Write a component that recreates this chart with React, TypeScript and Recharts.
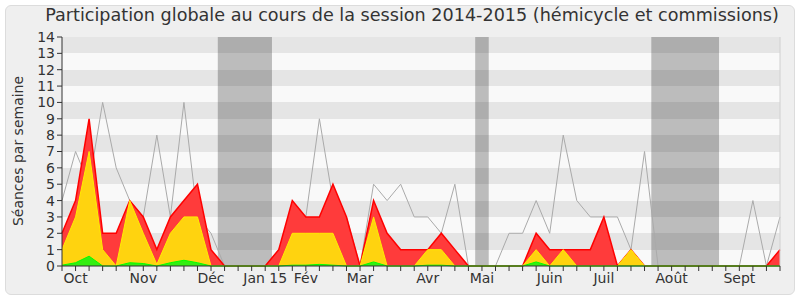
import React from 'react';
import { ComposedChart, Area, XAxis, YAxis, CartesianGrid, ReferenceArea, ReferenceLine, Label } from 'recharts';

const weekIndex: number[] = Array.from({ length: 54 }, (_, i) => i);

// red: total weekly sessions
const participations: number[] = [2, 4, 9, 2, 2, 4, 3, 1, 3, 4, 5, 1, 0, 0, 0, 0, 1, 4, 3, 3, 5, 3, 0, 4, 2, 1, 1, 1, 2, 1, 0, 0, 0, 0, 0, 2, 1, 1, 1, 1, 3, 0, 1, 0, 0, 0, 0, 0, 0, 0, 0, 0, 0, 1];
// yellow
const presences: number[] = [1, 3, 7, 1, 0, 4, 2, 0.1, 2, 3, 3, 0, 0, 0, 0, 0, 0, 2, 2, 2, 2, 0, 0, 3, 0, 0, 0, 1, 1, 0, 0, 0, 0, 0, 0, 1, 0, 1, 0, 0, 0, 0, 1, 0, 0, 0, 0, 0, 0, 0, 0, 0, 0, 0];
// green
const interventions: number[] = [0.05, 0.2, 0.6, 0, 0, 0.2, 0.15, 0, 0.2, 0.35, 0.2, 0, 0, 0, 0, 0, 0, 0.05, 0.05, 0.1, 0.05, 0, 0, 0.25, 0, 0, 0, 0.05, 0.05, 0, 0, 0, 0, 0, 0, 0.25, 0, 0, 0, 0, 0, 0, 0, 0, 0, 0, 0, 0, 0, 0, 0, 0, 0, 0];
// grey line
const mediane: number[] = [4, 7, 5, 10, 6, 4, 3, 8, 3, 10, 3, 2, 0, 0, 0, 0, 1, 3, 3, 9, 4, 3, 0, 5, 4, 5, 3, 3, 2, 5, 0, 0, 0, 2, 2, 4, 2, 8, 4, 3, 3, 3, 1, 7, 0, 0, 0, 0, 0, 0, 0, 4, 0, 3];

const monthTicks: [number, string][] = [
  [1, 'Oct'], [6, 'Nov'], [11, 'Déc'], [15, 'Jan 15'], [18, 'Fév'], [22, 'Mar'],
  [27, 'Avr'], [31, 'Mai'], [36, 'Juin'], [40, 'Juil'], [45, 'Août'], [50, 'Sept'],
];

const vacances: [number, number][] = [[11.5, 15.5], [30.5, 31.5], [43.5, 48.5]];

const yTicks: number[] = [0, 1, 2, 3, 4, 5, 6, 7, 8, 9, 10, 11, 12, 13, 14];

const data = weekIndex.map((i) => ({
  i,
  participations: participations[i],
  presences: presences[i],
  interventions: interventions[i],
  mediane: mediane[i],
}));

const labelFor = (v: number) => {
  const f = monthTicks.find((t) => t[0] === v);
  return f ? f[1] : '';
};

const FONT = '"DejaVu Sans", Verdana, sans-serif';

export default function App() {
  return (
    <div style={{ position: 'absolute', left: 0, top: 0, width: 800, height: 300, background: '#fff', fontFamily: FONT }}>
      <div style={{ position: 'absolute', left: 5, top: 5, width: 788, height: 288, background: '#efefef', border: '1px solid #dcdcdc', borderRadius: 6 }} />
      <div style={{ position: 'absolute', left: 0, top: 5, width: 824, textAlign: 'center', fontSize: 17.6, color: '#333', whiteSpace: 'nowrap' }}>
        Participation globale au cours de la session 2014-2015 (hémicycle et commissions)
      </div>
      <div style={{ position: 'absolute', left: 0, top: 0 }}>
        <ComposedChart width={800} height={300} data={data} margin={{ top: 37, right: 20, bottom: 4, left: 0 }}>
          <CartesianGrid horizontal vertical={false} stroke="transparent" horizontalFill={['#e5e5e5', '#f9f9f9']} />
          <XAxis
            xAxisId="top"
            orientation="top"
            dataKey="i"
            type="number"
            domain={[0, 53]}
            ticks={weekIndex}
            interval={0}
            height={0}
            axisLine={false}
            tick={false}
            tickSize={1}
            tickLine={{ stroke: '#222' }}
          />
          <XAxis
            dataKey="i"
            type="number"
            domain={[0, 53]}
            ticks={weekIndex}
            interval={0}
            height={30}
            tickFormatter={labelFor}
            tickSize={5}
            stroke="#333"
            tick={{ fill: '#333', fontSize: 14, fontFamily: FONT }}
            tickLine={{ stroke: '#333' }}
            axisLine={{ stroke: '#333' }}
          />
          <YAxis
            domain={[0, 14]}
            ticks={yTicks}
            interval={0}
            width={62}
            tickSize={5}
            tick={{ fill: '#333', fontSize: 14, fontFamily: FONT }}
            tickLine={{ stroke: '#333' }}
            axisLine={{ stroke: '#333' }}
          >
            <Label
              content={() => (
                <text x={23} y={151} transform="rotate(-90 23 151)" textAnchor="middle" fontSize={14} fill="#333" fontFamily={FONT}>
                  Séances par semaine
                </text>
              )}
            />
          </YAxis>
          {vacances.map((v, k) => (
            <ReferenceArea key={k} x1={v[0]} x2={v[1]} y1={0} y2={14} fill="#000" fillOpacity={0.245} stroke="none" ifOverflow="hidden" />
          ))}
          <Area type="linear" dataKey="mediane" stroke="#aaaaaa" strokeWidth={1} fill="none" fillOpacity={0} isAnimationActive={false} />
          <Area type="linear" dataKey="participations" stroke="#ff0000" strokeWidth={1.5} fill="#ff3b3b" fillOpacity={1} isAnimationActive={false} />
          <Area type="linear" dataKey="presences" stroke="#ffee00" strokeWidth={1} fill="#ffd30f" fillOpacity={1} isAnimationActive={false} />
          <Area type="linear" dataKey="interventions" stroke="#00ff00" strokeWidth={1} fill="#33ee11" fillOpacity={1} isAnimationActive={false} />
          <ReferenceLine x={53} stroke="#d0d0d0" />
        </ComposedChart>
      </div>
    </div>
  );
}
